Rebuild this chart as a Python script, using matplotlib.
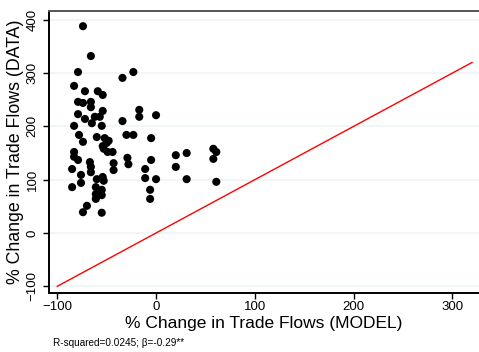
import numpy as np
import matplotlib.pyplot as plt

plt.rcParams['font.family'] = ['Liberation Sans', 'DejaVu Sans']

# % change in trade flows: model prediction vs. data
model = [-74, -66, -79, -23, -34, -83, -72, -59, -54, -79, -74, -66, -66, -54,
         -17, -79, 0, -17, -72, -65, -62, -57, -55, -34, -83, -78, -74, -60,
         -52, -50, -54, -53, -48, -49, -44, -30, -23, -5, -83, -83, -79, -67,
         -66, -66, -85, -76, -76, -85, -60, -54, -53, -61, -61, -61, -55, -55,
         -43, -43, -29, -28, -5, -11, -11, 0, -6, -6, -70, -74, -55, 20, 20,
         31, 31, 58, 61, 58, 61]
data = [388, 332, 302, 302, 291, 276, 266, 266, 259, 246, 244, 246, 236, 229,
        231, 223, 221, 218, 214, 206, 218, 218, 201, 210, 201, 184, 171, 180,
        178, 169, 163, 158, 173, 152, 152, 184, 184, 178, 152, 143, 137, 133,
        124, 114, 120, 109, 94, 86, 101, 105, 98, 86, 73, 64, 81, 71, 131, 118,
        141, 129, 137, 120, 103, 101, 81, 64, 51, 39, 38, 146, 124, 150, 101,
        158, 152, 139, 96]

diag = [-100, 320]
x_ticks = [-100, 0, 100, 200, 300]
y_ticks = [-100, 0, 100, 200, 300, 400]
note = "R-squared=0.0245; \u03b2=-0.29**"

fig = plt.figure(figsize=(4.79, 3.52), dpi=100)
ax = fig.add_axes([49 / 479, 1 - 293 / 352, 1 - 49 / 479, (293 - 11) / 352])

ax.plot(diag, diag, color='red', lw=1.0, zorder=2)
ax.scatter(model, data, s=34, color='black', edgecolors='none', zorder=3)

ax.set_xlim(-108.4, 327)
ax.set_ylim(-112.6, 416.5)
ax.set_xticks(x_ticks)
ax.set_yticks(y_ticks)
ax.grid(axis='y', color='#eef4f5', lw=1.2)
ax.set_axisbelow(True)

for s in ['left', 'bottom']:
    ax.spines[s].set_linewidth(1.4)
ax.spines['top'].set_color('#555555')
ax.spines['top'].set_linewidth(1.4)
ax.spines['right'].set_visible(False)

ax.tick_params(axis='both', direction='out', length=4, width=1, labelsize=9.5)
ax.tick_params(axis='x', pad=2)
ax.tick_params(axis='y', pad=3.5)
for lbl in ax.get_yticklabels():
    lbl.set_rotation(90)
    lbl.set_va('center')

ax.set_xlabel('% Change in Trade Flows (MODEL)', fontsize=12.5)
ax.set_ylabel('% Change in Trade Flows (DATA)', fontsize=12.8)
ax.xaxis.set_label_coords(0.5, -0.083)
ax.yaxis.set_label_coords(-0.059, 0.5)

fig.text(53 / 479, 1 - 343 / 352, note, fontsize=7.2, va='center')

fig.savefig('out.png', dpi=100)
